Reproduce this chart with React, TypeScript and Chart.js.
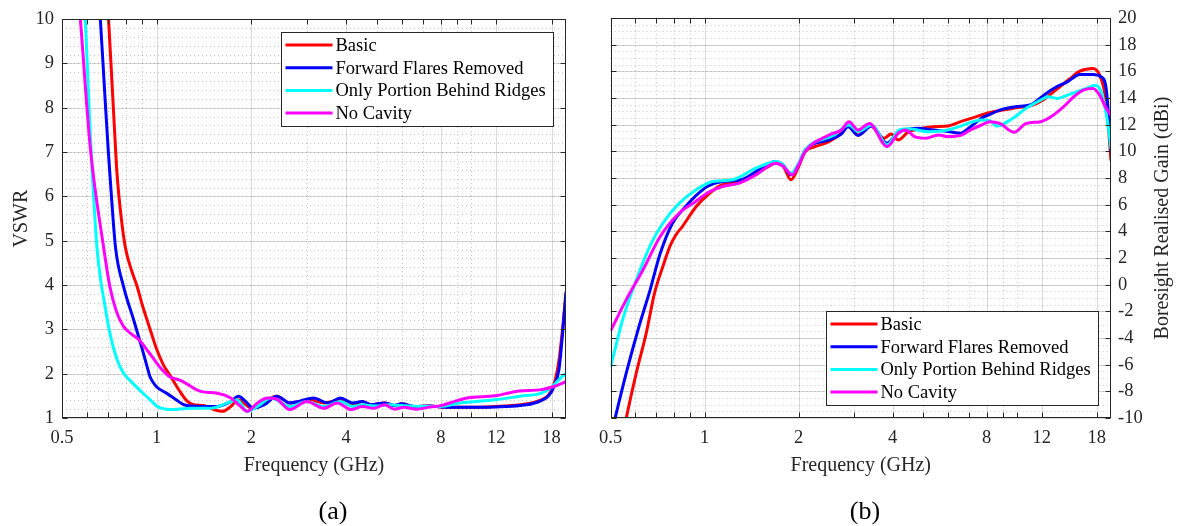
import React, { useEffect, useRef } from "react";
import { Chart, registerables } from "chart.js";

Chart.register(...registerables);

// ---------- data ----------
const SERIES_LABELS = ["Basic", "Forward Flares Removed", "Only Portion Behind Ridges", "No Cavity"];
const SERIES_COLORS = ["#ff0000", "#0000ff", "#00ffff", "#ff00ff"];

const X_MAJOR_TICKS = [0.5, 1, 2, 4, 8, 12, 18];
const X_MINOR_TICKS = [0.6, 0.7, 0.8, 0.9, 3, 5, 6, 7, 9, 10];

// VSWR (panel a)
const VSWR_BASIC_FREQ = [0.69, 0.703, 0.729, 0.748, 0.772, 0.795, 0.83, 0.867, 0.9, 0.932, 0.965, 1.0, 1.05, 1.105, 1.18, 1.25, 1.31, 1.41, 1.52, 1.62, 1.72, 1.82, 1.89, 2.0, 2.15, 2.3, 2.41, 2.65, 2.85, 3.07, 3.4, 3.84, 4.2, 4.5, 4.8, 5.3, 5.7, 6.0, 6.6, 7.4, 8.0, 9.5, 11.9, 14.3, 16.1, 17.6, 18.3, 19.0, 19.5, 20];
const VSWR_BASIC = [11, 10, 7.93, 6.51, 5.5, 4.85, 4.35, 3.96, 3.55, 3.21, 2.88, 2.55, 2.2, 1.95, 1.62, 1.38, 1.3, 1.28, 1.19, 1.15, 1.26, 1.41, 1.34, 1.22, 1.3, 1.45, 1.49, 1.34, 1.37, 1.41, 1.34, 1.41, 1.3, 1.37, 1.3, 1.34, 1.28, 1.32, 1.26, 1.27, 1.25, 1.24, 1.26, 1.3, 1.37, 1.52, 1.75, 2.3, 3.0, 3.8];

const VSWR_FLARES_FREQ = [0.65, 0.662, 0.675, 0.688, 0.702, 0.718, 0.74, 0.785, 0.845, 0.9, 0.932, 0.95, 0.975, 1.0, 1.08, 1.15, 1.22, 1.38, 1.55, 1.72, 1.82, 1.92, 2.03, 2.2, 2.41, 2.65, 2.85, 3.15, 3.5, 3.84, 4.2, 4.5, 4.8, 5.3, 5.7, 6.0, 6.6, 7.4, 8.0, 9.5, 11.9, 14.3, 16.1, 17.6, 18.3, 19.0, 19.5, 20];
const VSWR_FLARES = [11, 10, 9, 8, 7, 6, 4.84, 3.96, 3.21, 2.55, 2.16, 1.95, 1.8, 1.7, 1.55, 1.42, 1.3, 1.26, 1.26, 1.37, 1.49, 1.37, 1.22, 1.3, 1.49, 1.34, 1.38, 1.45, 1.34, 1.45, 1.34, 1.37, 1.3, 1.34, 1.28, 1.32, 1.26, 1.27, 1.25, 1.24, 1.25, 1.28, 1.35, 1.5, 1.7, 2.1, 2.9, 3.85];

const VSWR_RIDGES_FREQ = [0.58, 0.593, 0.615, 0.646, 0.664, 0.682, 0.71, 0.75, 0.785, 0.83, 0.88, 0.95, 1.0, 1.1, 1.28, 1.48, 1.68, 1.8, 1.94, 2.09, 2.31, 2.65, 3.0, 3.4, 3.84, 4.2, 4.5, 5.0, 5.5, 6.0, 7.0, 8.0, 9.2, 11.9, 14.3, 16.7, 18.1, 19.2, 20];
const VSWR_RIDGES = [11.2, 10, 7.4, 4.84, 4.1, 3.6, 2.91, 2.3, 2.01, 1.82, 1.64, 1.42, 1.27, 1.19, 1.22, 1.22, 1.34, 1.41, 1.15, 1.26, 1.45, 1.26, 1.37, 1.26, 1.37, 1.26, 1.3, 1.27, 1.3, 1.28, 1.26, 1.26, 1.34, 1.41, 1.49, 1.56, 1.71, 1.9, 2.01];

const VSWR_NOCAV_FREQ = [0.55, 0.572, 0.615, 0.679, 0.71, 0.745, 0.785, 0.83, 0.88, 0.94, 1.0, 1.04, 1.1, 1.19, 1.38, 1.56, 1.72, 1.85, 1.94, 2.09, 2.25, 2.4, 2.65, 3.0, 3.4, 3.75, 4.15, 4.5, 4.9, 5.3, 5.7, 6.1, 6.7, 7.3, 8.0, 8.8, 9.7, 11.9, 13.9, 16.7, 18.3, 20];
const VSWR_NOCAV = [11.5, 10, 7.1, 4.82, 3.96, 3.4, 3.06, 2.9, 2.76, 2.5, 2.24, 2.09, 1.93, 1.85, 1.6, 1.56, 1.45, 1.26, 1.15, 1.34, 1.45, 1.43, 1.19, 1.37, 1.22, 1.34, 1.19, 1.26, 1.22, 1.3, 1.2, 1.24, 1.2, 1.24, 1.28, 1.37, 1.45, 1.5, 1.6, 1.64, 1.71, 1.82];

// Boresight realised gain (panel b)
const GAIN_BASIC_FREQ = [0.54, 0.562, 0.605, 0.651, 0.692, 0.736, 0.775, 0.81, 0.85, 0.94, 1.04, 1.14, 1.29, 1.46, 1.6, 1.7, 1.78, 1.89, 2.0, 2.1, 2.26, 2.5, 2.74, 2.88, 3.1, 3.37, 3.76, 3.95, 4.17, 4.5, 4.97, 5.4, 6.0, 6.6, 7.3, 7.7, 8.4, 9.0, 10.1, 11.0, 12.2, 13.5, 14.8, 15.9, 17.5, 18.4, 19.3, 20];
const GAIN_BASIC = [-12, -9.94, -6.58, -3.59, -0.6, 1.4, 2.9, 3.75, 4.38, 5.87, 6.88, 7.5, 7.67, 8.37, 8.85, 9.16, 8.95, 7.87, 8.86, 9.99, 10.36, 10.73, 11.36, 11.98, 11.23, 11.98, 10.99, 11.3, 10.86, 11.48, 11.73, 11.85, 11.9, 12.23, 12.55, 12.73, 12.97, 13.1, 13.3, 13.4, 13.9, 14.72, 15.47, 16.02, 16.22, 15.72, 13.72, 9.3];

const GAIN_FLARES_FREQ = [0.5, 0.518, 0.562, 0.613, 0.67, 0.72, 0.79, 0.87, 0.94, 1.02, 1.14, 1.31, 1.49, 1.69, 1.78, 1.89, 2.0, 2.1, 2.5, 2.74, 2.88, 3.1, 3.43, 3.84, 4.17, 4.4, 4.83, 5.4, 6.0, 6.6, 7.1, 7.7, 8.2, 8.8, 9.9, 11.0, 12.2, 13.1, 14.5, 15.9, 17.5, 18.6, 19.3, 20];
const GAIN_FLARES = [-11.5, -9.94, -6.58, -3.34, -0.35, 2.3, 4.63, 5.87, 6.7, 7.37, 7.74, 7.87, 8.62, 9.24, 9.0, 8.24, 9.0, 10.11, 10.86, 11.3, 11.85, 11.2, 11.9, 10.61, 11.48, 11.61, 11.73, 11.6, 11.5, 11.36, 11.85, 12.48, 12.78, 13.1, 13.35, 13.48, 14.22, 14.72, 15.22, 15.77, 15.77, 15.59, 14.72, 9.98];

const GAIN_RIDGES_FREQ = [0.5, 0.547, 0.605, 0.67, 0.736, 0.83, 0.94, 1.06, 1.23, 1.46, 1.7, 1.78, 1.89, 2.0, 2.1, 2.6, 2.9, 3.1, 3.43, 3.84, 4.2, 4.5, 5.2, 6.0, 6.6, 7.7, 8.2, 8.6, 9.7, 10.7, 11.9, 12.6, 13.5, 14.5, 15.5, 16.7, 17.8, 18.6, 19.5, 20];
const GAIN_RIDGES = [-6.21, -2.6, 0.39, 2.95, 4.63, 6.12, 7.12, 7.74, 7.87, 8.74, 9.24, 9.0, 8.37, 9.1, 10.11, 11.23, 11.98, 11.5, 11.98, 10.49, 11.61, 11.7, 11.48, 11.6, 11.9, 12.35, 12.3, 11.9, 12.48, 13.23, 13.85, 14.1, 13.97, 14.22, 14.47, 14.72, 14.97, 14.47, 12.23, 10.2];

const GAIN_NOCAV_FREQ = [0.5, 0.562, 0.636, 0.72, 0.83, 0.92, 1.04, 1.14, 1.29, 1.46, 1.69, 1.78, 1.91, 2.0, 2.1, 2.5, 2.74, 2.9, 3.1, 3.37, 3.84, 4.17, 4.4, 4.7, 5.1, 5.6, 6.0, 6.6, 7.1, 7.7, 8.2, 8.8, 9.8, 10.7, 11.9, 13.1, 14.1, 15.2, 16.3, 17.5, 18.4, 19.3, 20];
const GAIN_NOCAV = [-3.47, -1.1, 1.14, 3.6, 5.38, 6.12, 6.99, 7.37, 7.62, 8.24, 9.12, 8.9, 8.24, 9.0, 10.0, 11.23, 11.61, 12.23, 11.61, 12.1, 10.36, 11.36, 11.61, 11.11, 10.99, 11.23, 11.11, 11.2, 11.61, 11.98, 12.23, 12.1, 11.43, 12.1, 12.23, 12.73, 13.35, 14.1, 14.6, 14.72, 14.22, 13.23, 12.7];

const VSWR_SERIES = [
  [VSWR_BASIC_FREQ, VSWR_BASIC],
  [VSWR_FLARES_FREQ, VSWR_FLARES],
  [VSWR_RIDGES_FREQ, VSWR_RIDGES],
  [VSWR_NOCAV_FREQ, VSWR_NOCAV],
];
const GAIN_SERIES = [
  [GAIN_BASIC_FREQ, GAIN_BASIC],
  [GAIN_FLARES_FREQ, GAIN_FLARES],
  [GAIN_RIDGES_FREQ, GAIN_RIDGES],
  [GAIN_NOCAV_FREQ, GAIN_NOCAV],
];

// ---------- styling ----------
const FONT = "'Liberation Serif', 'Times New Roman', Times, serif";
const AXIS_COLOR = "#262626";

const matlabFrame = {
  id: "matlabFrame",
  beforeDatasetsDraw(chart: any, _args: any, opts: any) {
    const { ctx, chartArea: a } = chart;
    const xs = chart.scales.x;
    const ys = chart.scales.y;
    ctx.save();
    ctx.lineWidth = 1;
    // minor dotted grid
    ctx.strokeStyle = "rgba(38,38,38,0.28)";
    ctx.setLineDash([1, 3]);
    ctx.beginPath();
    for (const v of X_MINOR_TICKS) {
      const p = Math.round(xs.getPixelForValue(v)) + 0.5;
      ctx.moveTo(p, a.top);
      ctx.lineTo(p, a.bottom);
    }
    const n = Math.round((ys.max - ys.min) / opts.yMinor);
    for (let i = 1; i < n; i++) {
      const v = ys.min + i * opts.yMinor;
      const p = Math.round(ys.getPixelForValue(v)) + 0.5;
      ctx.moveTo(a.left, p);
      ctx.lineTo(a.right, p);
    }
    ctx.stroke();
    // major solid grid
    ctx.setLineDash([]);
    ctx.strokeStyle = "rgba(38,38,38,0.17)";
    ctx.beginPath();
    for (const t of xs.ticks) {
      const p = Math.round(xs.getPixelForValue(t.value)) + 0.5;
      ctx.moveTo(p, a.top);
      ctx.lineTo(p, a.bottom);
    }
    for (const t of ys.ticks) {
      const p = Math.round(ys.getPixelForValue(t.value)) + 0.5;
      ctx.moveTo(a.left, p);
      ctx.lineTo(a.right, p);
    }
    ctx.stroke();
    ctx.restore();
  },
  afterDatasetsDraw(chart: any, _args: any, opts: any) {
    const { ctx, chartArea: a } = chart;
    const xs = chart.scales.x;
    const ys = chart.scales.y;
    ctx.save();
    ctx.strokeStyle = AXIS_COLOR;
    ctx.lineWidth = 1;
    const L = Math.round(a.left) + 0.5;
    const R = Math.round(a.right) - 0.5;
    const T = Math.round(a.top) + 0.5;
    const B = Math.round(a.bottom) - 0.5;
    ctx.strokeRect(L, T, R - L, B - T);
    const tl = 5;
    ctx.beginPath();
    const xv = [...xs.ticks.map((t: any) => t.value), ...X_MINOR_TICKS];
    for (const v of xv) {
      const p = Math.round(xs.getPixelForValue(v)) + 0.5;
      ctx.moveTo(p, B);
      ctx.lineTo(p, B - tl);
      ctx.moveTo(p, T);
      ctx.lineTo(p, T + tl);
    }
    for (const t of ys.ticks) {
      const p = Math.round(ys.getPixelForValue(t.value)) + 0.5;
      ctx.moveTo(L, p);
      ctx.lineTo(L + tl, p);
      ctx.moveTo(R, p);
      ctx.lineTo(R - tl, p);
    }
    ctx.stroke();

    // legend
    const W = 272;
    const H = 94;
    const inset = 13;
    const bx = Math.round(a.right - inset - W) + 0.5;
    const by = Math.round(opts.legend === "ne" ? a.top + inset : a.bottom - inset - H) + 0.5;
    ctx.fillStyle = "#ffffff";
    ctx.fillRect(bx, by, W, H);
    ctx.strokeStyle = AXIS_COLOR;
    ctx.lineWidth = 1;
    ctx.strokeRect(bx, by, W, H);
    ctx.font = `18.5px ${FONT}`;
    ctx.textBaseline = "middle";
    ctx.textAlign = "left";
    chart.data.datasets.forEach((ds: any, i: number) => {
      const cy = by + 12.5 + i * 22.7;
      ctx.strokeStyle = ds.borderColor;
      ctx.lineWidth = 3;
      ctx.beginPath();
      ctx.moveTo(bx + 4, cy);
      ctx.lineTo(bx + 51, cy);
      ctx.stroke();
      ctx.fillStyle = "#000000";
      ctx.fillText(ds.label, bx + 54, cy + 1);
    });

    if (opts.rightTitle) {
      ctx.fillStyle = AXIS_COLOR;
      ctx.font = `20px ${FONT}`;
      ctx.textAlign = "center";
      ctx.textBaseline = "middle";
      ctx.translate(opts.rightTitleX, (a.top + a.bottom) / 2);
      ctx.rotate(-Math.PI / 2);
      ctx.fillText(opts.rightTitle, 0, 0);
    }
    ctx.restore();
  },
};

function makeDatasets(series: number[][][]) {
  return series.map(([fx, vy], i) => ({
    label: SERIES_LABELS[i],
    data: fx.map((f, k) => ({ x: f, y: vy[k] })),
    borderColor: SERIES_COLORS[i],
    backgroundColor: SERIES_COLORS[i],
    borderWidth: 3,
    pointRadius: 0,
    cubicInterpolationMode: "monotone" as const,
    fill: false,
    order: series.length - 1 - i,
  }));
}

function xScale() {
  return {
    type: "logarithmic" as const,
    min: 0.5,
    max: 20,
    afterBuildTicks: (ax: any) => {
      ax.ticks = X_MAJOR_TICKS.map((v) => ({ value: v }));
    },
    afterFit: (s: any) => {
      s.height = 62;
    },
    ticks: {
      autoSkip: false,
      maxRotation: 0,
      padding: 9,
      color: AXIS_COLOR,
      font: { family: FONT, size: 18.5 },
      callback: (v: any) => String(v),
    },
    grid: { display: false, drawTicks: false },
    border: { display: false },
    title: {
      display: true,
      text: "Frequency (GHz)",
      color: AXIS_COLOR,
      font: { family: FONT, size: 20 },
      padding: { top: 4, bottom: 2 },
    },
  };
}

function VswrChart() {
  const ref = useRef<HTMLCanvasElement | null>(null);
  useEffect(() => {
    if (!ref.current) return;
    const chart = new Chart(ref.current, {
      type: "line",
      data: { datasets: makeDatasets(VSWR_SERIES) as any },
      plugins: [matlabFrame],
      options: {
        responsive: false,
        animation: false,
        layout: { padding: { left: 6, right: 24, top: 18, bottom: 46 } },
        plugins: {
          legend: { display: false },
          tooltip: { enabled: false },
          matlabFrame: { yMinor: 0.2, legend: "ne" },
        } as any,
        scales: {
          x: xScale() as any,
          y: {
            type: "linear",
            min: 1,
            max: 10,
            afterFit: (s: any) => {
              s.width = 56;
            },
            ticks: {
              stepSize: 1,
              padding: 8,
              color: AXIS_COLOR,
              font: { family: FONT, size: 18.5 },
            },
            grid: { display: false, drawTicks: false },
            border: { display: false },
            title: {
              display: true,
              text: "VSWR",
              color: AXIS_COLOR,
              font: { family: FONT, size: 20 },
              padding: { top: 4, bottom: 4 },
            },
          } as any,
        },
      },
    });
    return () => chart.destroy();
  }, []);
  return <canvas ref={ref} width={590} height={526} style={{ position: "absolute", left: 0, top: 0, width: 590, height: 526 }} />;
}

function GainChart() {
  const ref = useRef<HTMLCanvasElement | null>(null);
  useEffect(() => {
    if (!ref.current) return;
    const chart = new Chart(ref.current, {
      type: "line",
      data: { datasets: makeDatasets(GAIN_SERIES) as any },
      plugins: [matlabFrame],
      options: {
        responsive: false,
        animation: false,
        layout: { padding: { left: 17, right: 0, top: 18, bottom: 46 } },
        plugins: {
          legend: { display: false },
          tooltip: { enabled: false },
          matlabFrame: { yMinor: 0.5, legend: "se", rightTitle: "Boresight Realised Gain (dBi)", rightTitleX: 573 },
        } as any,
        scales: {
          x: xScale() as any,
          y: {
            type: "linear",
            position: "right",
            min: -10,
            max: 20,
            afterFit: (s: any) => {
              s.width = 70;
            },
            ticks: {
              stepSize: 2,
              padding: 7,
              color: AXIS_COLOR,
              font: { family: FONT, size: 18.5 },
            },
            grid: { display: false, drawTicks: false },
            border: { display: false },
          } as any,
        },
      },
    });
    return () => chart.destroy();
  }, []);
  return <canvas ref={ref} width={591} height={526} style={{ position: "absolute", left: 590, top: 0, width: 591, height: 526 }} />;
}

const captionStyle: React.CSSProperties = {
  position: "absolute",
  top: 496,
  width: 80,
  textAlign: "center",
  fontFamily: FONT,
  fontSize: 26,
  color: "#000",
  lineHeight: "30px",
};

export default function App() {
  return (
    <div style={{ position: "fixed", left: 0, top: 0, width: 1181, height: 526, background: "#ffffff", overflow: "hidden" }}>
      <VswrChart />
      <GainChart />
      <div style={{ ...captionStyle, left: 293 }}>(a)</div>
      <div style={{ ...captionStyle, left: 825 }}>(b)</div>
    </div>
  );
}
